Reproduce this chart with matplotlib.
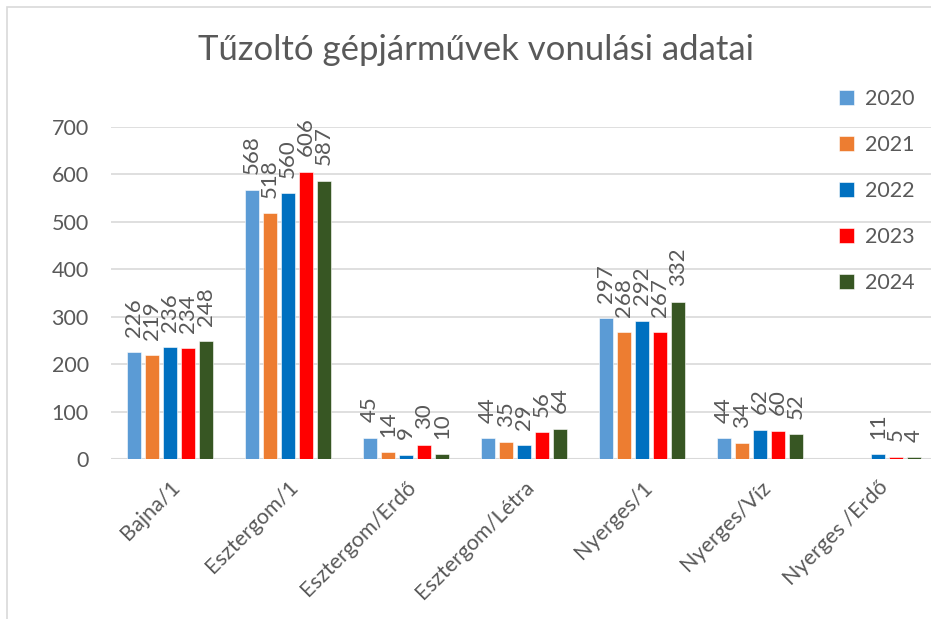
import matplotlib
matplotlib.use("Agg")
import matplotlib.pyplot as plt
import numpy as np
from matplotlib.patches import Rectangle

categories = ["Bajna/1", "Esztergom/1", "Esztergom/Erdő", "Esztergom/Létra",
              "Nyerges/1", "Nyerges/Víz", "Nyerges /Erdő"]
years = ["2020", "2021", "2022", "2023", "2024"]
v2020 = [226, 568, 45, 44, 297, 44, np.nan]
v2021 = [219, 518, 14, 35, 268, 34, np.nan]
v2022 = [236, 560, 9, 29, 292, 62, 11]
v2023 = [234, 606, 30, 56, 267, 60, 5]
v2024 = [248, 587, 10, 64, 332, 52, 4]
series = [v2020, v2021, v2022, v2023, v2024]
colors = ["#5B9BD5", "#ED7D31", "#0070C0", "#FF0000", "#375623"]

plt.rcParams["font.family"] = ["Lato", "DejaVu Sans"]
txt = "#595959"
grid = "#D9D9D9"

fig = plt.figure(figsize=(9.31, 6.19), dpi=100)
ax = fig.add_axes([111/931, 1 - 459/619, 826/931, 332/619])

x = np.arange(len(categories))
pitch = 0.1525
for i, (vals, col, yr) in enumerate(zip(series, colors, years)):
    pos = x + (i - 2) * pitch
    bars = ax.bar(pos, vals, width=0.125, color=col, label=yr, zorder=3,
                  edgecolor="white", linewidth=0.4)
    for p, v in zip(pos, vals):
        if np.isnan(v):
            continue
        ax.annotate(f"{int(v)}", (p, v), xytext=(0, 11), textcoords="offset points",
                    rotation=90, ha="center", va="bottom", fontsize=16, color=txt)

ax.set_xlim(-0.5, len(categories) - 0.5)
ax.set_ylim(0, 700)
ax.set_yticks(range(0, 701, 100))
ax.yaxis.grid(True, color=grid, linewidth=1.2, zorder=0)
ax.set_axisbelow(True)
for s in ax.spines.values():
    s.set_visible(False)
ax.axhline(0, color=grid, linewidth=1.5, zorder=2)
ax.tick_params(axis="y", length=0, pad=16, labelsize=15.5, labelcolor=txt)
ax.tick_params(axis="x", length=0, pad=13, labelsize=15.5, labelcolor=txt)
ax.set_xticks(x)
ax.set_xticklabels(categories, rotation=45, ha="right", va="top",
                   rotation_mode="anchor")

fig.text(476/931, 1 - 50/619, "Tűzoltó gépjárművek vonulási adatai",
         ha="center", va="center", fontsize=25, color=txt)

ax.legend(loc="upper left", bbox_to_anchor=(820/931, 1 - 70/619),
          bbox_transform=fig.transFigure, frameon=False, fontsize=15.5,
          labelcolor=txt, handlelength=0.7, handleheight=0.7,
          handletextpad=0.5, labelspacing=1.2)

fig.patches.append(Rectangle((7/931, -0.1), 1.2, 1.1 - 7/619, transform=fig.transFigure,
                             fill=False, edgecolor="#D9D9D9", linewidth=1.2))

fig.savefig("out.png", dpi=100)
